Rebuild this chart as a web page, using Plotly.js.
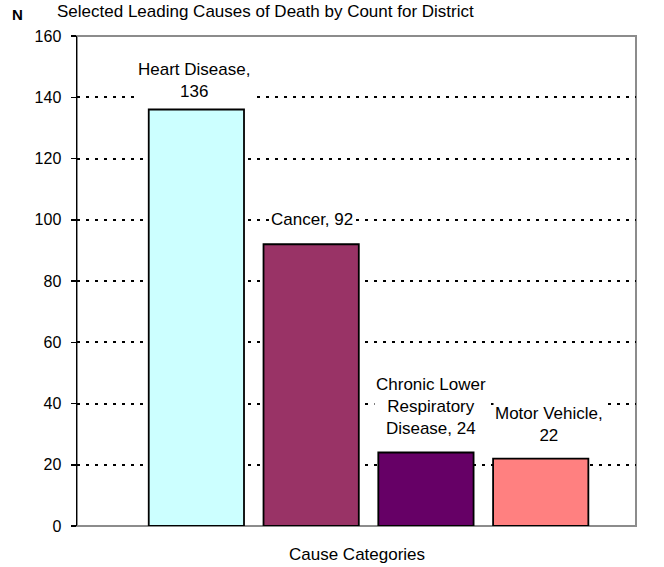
<!DOCTYPE html>
<html><head><meta charset="utf-8">
<script src="https://cdn.plot.ly/plotly-3.0.1.min.js"></script>
<style>html,body{margin:0;padding:0;background:#fff}#chart{width:664px;height:567px}</style>
</head><body><div id="chart"></div>
<script>
// ---- data ----
const categories = ["Heart Disease", "Cancer", "Chronic Lower Respiratory Disease", "Motor Vehicle"];
const counts = [136, 92, 24, 22];
const labelPrefixes = ["Heart Disease,<br>", "Cancer, ", "Chronic Lower<br>Respiratory<br>Disease, ", "Motor Vehicle,<br>"];
const yTickValues = [0, 20, 40, 60, 80, 100, 120, 140, 160];
const chartTitle = "Selected Leading Causes of Death by Count for District";
const yTitle = "N";
const xTitle = "Cause Categories";

// ---- style ----
const barColors = ["#CCFFFF", "#993366", "#660066", "#FF8080"];
const labelYShift = [7, 13, 13, 12];
const labelXShift = [-2, 1, 5, 8];
const FONT = "Liberation Sans, Arial, sans-serif";

const trace = {
  type: "bar",
  x: categories,
  y: counts,
  width: 0.83,
  marker: { color: barColors, line: { color: "#000", width: 1.8 } },
  hoverinfo: "none"
};

const annotations = categories.map((c, i) => ({
  x: c, y: counts[i], xref: "x", yref: "y",
  text: labelPrefixes[i] + counts[i],
  showarrow: false, xanchor: "center", yanchor: "bottom",
  yshift: labelYShift[i], xshift: labelXShift[i],
  bgcolor: "#ffffff", borderpad: 1,
  font: { family: FONT, size: 17, color: "#000" }
}));

annotations.push({
  text: chartTitle, xref: "paper", yref: "paper", x: 0.338, y: 1.051,
  xanchor: "center", yanchor: "middle", showarrow: false,
  font: { family: FONT, size: 17, color: "#000" }
});
annotations.push({
  text: "<b>" + yTitle + "</b>", xref: "paper", yref: "paper", x: -0.107, y: 1.043,
  xanchor: "center", yanchor: "middle", showarrow: false,
  font: { family: FONT, size: 15, color: "#000" }
});
annotations.push({
  text: xTitle, xref: "paper", yref: "paper", x: 0.5, y: -0.059,
  xanchor: "center", yanchor: "middle", showarrow: false,
  font: { family: FONT, size: 17, color: "#000" }
});

const layout = {
  width: 664, height: 567,
  margin: { l: 77, r: 28, t: 36, b: 41, pad: 0 },
  paper_bgcolor: "#fff", plot_bgcolor: "#fff",
  showlegend: false,
  font: { family: FONT, color: "#000" },
  xaxis: {
    type: "category", range: [-1.04, 3.83],
    showticklabels: false, ticks: "", showgrid: false, zeroline: false, showline: false,
    fixedrange: true
  },
  yaxis: {
    range: [0, 160], tickvals: yTickValues, ticktext: yTickValues.map(String),
    showgrid: true, gridcolor: "#000", gridwidth: 2, griddash: "3px,6px",
    zeroline: false, showline: true, linecolor: "#000", linewidth: 1.5,
    ticks: "outside", ticklen: 5, tickwidth: 1.5, tickcolor: "#000",
    ticklabelstandoff: 6,
    tickfont: { family: FONT, size: 16, color: "#000" },
    fixedrange: true
  },
  shapes: [{
    type: "rect", xref: "paper", yref: "paper", x0: 0, x1: 1, y0: 0, y1: 1,
    line: { color: "#8c8c8c", width: 2 }, layer: "below"
  }],
  annotations: annotations
};

Plotly.newPlot("chart", [trace], layout, { displayModeBar: false, staticPlot: true });
</script>
</body></html>
